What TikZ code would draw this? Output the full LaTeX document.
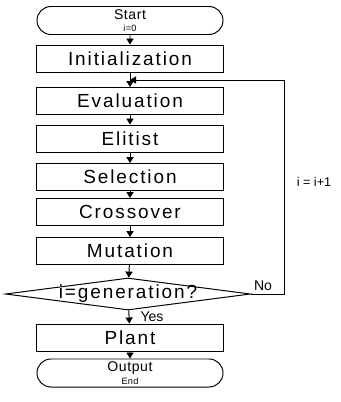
\documentclass[tikz,border=0pt]{standalone}
\usepackage{fontspec}
\setmainfont{Liberation Sans}
\usetikzlibrary{shapes.geometric, shapes.misc, arrows.meta}

\begin{document}
\begin{tikzpicture}[x=0.025cm, y=-0.025cm, line width=0.7pt,
    >={Triangle[length=1.5mm, width=1.8mm]},
    block/.style={draw, rectangle, minimum width=4.65cm, minimum height=0.675cm, inner sep=0pt,
        font=\fontsize{13.5}{15}\selectfont\addfontfeatures{LetterSpace=10}},
    term/.style={draw, rounded rectangle, minimum width=4.65cm, minimum height=0.7cm, inner sep=0pt,
        align=center, font=\fontsize{10}{10}\selectfont\addfontfeatures{LetterSpace=4}},
    small/.style={font=\fontsize{10}{12}\selectfont}]
    \useasboundingbox (0,0) rectangle (341,402);
    % main chain
    \node[term] (start) at (130,20.5) {Start\\[-1pt]{\fontsize{6.5}{7}\selectfont i=0}};
    \node[block] (init) at (130,58.5) {Initialization};
    \node[block] (eval) at (130,101) {Evaluation};
    \node[block] (elit) at (130,138.5) {Elitist};
    \node[block] (sel) at (130,177) {Selection};
    \node[block] (cross) at (130,212) {Crossover};
    \node[block] (mut) at (130,251) {Mutation};
    \node[draw, diamond, minimum width=6.125cm, minimum height=0.8cm, inner sep=0pt] (test) at (128,294) {};
    \node[font=\fontsize{13.5}{15}\selectfont\addfontfeatures{LetterSpace=10}] (testtxt) at (test) {i=generation?};
    \node[block] (plant) at (130,337.5) {Plant};
    \node[term] (out) at (130,373) {Output\\[-1pt]{\fontsize{6.5}{7}\selectfont End}};
    \coordinate (join) at (130,80); \coordinate (loop) at (284,80);
    \draw[->] (start) -- (init);
    \draw[->] (init) -- (eval);
    \draw[->] (eval) -- (elit);
    \draw[->] (elit) -- (sel);
    \draw[->] (sel) -- (cross);
    \draw[->] (cross) -- (mut);
    \draw[->] (mut) -- (test);
    \draw[->] (test) -- (plant);
    \draw[->] (plant) -- (out);
    % loop back
    \draw[->, semithick] (test.east) -| (loop) -- (join);
    \node[small] (no) at (263,286) {No};
    \node[small] (yes) at (152,317) {Yes};
    \node[font=\fontsize{9}{11}\selectfont] (inc) at (314,182) {i = i+1};
\end{tikzpicture}
\end{document}
